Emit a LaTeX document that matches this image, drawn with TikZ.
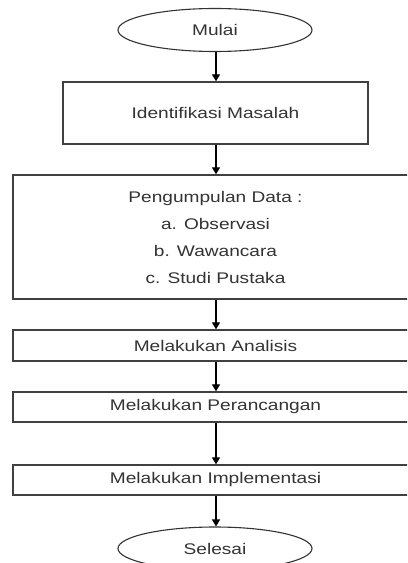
\documentclass[tikz,border=0pt]{standalone}
\usepackage{fontspec}
\setmainfont{Liberation Sans}[FakeStretch=1.24]
\usetikzlibrary{shapes.geometric,arrows.meta}
\begin{document}
\begin{tikzpicture}[x=1bp,y=-1bp,
  every node/.style={text=black!80,font=\fontsize{15.4bp}{27bp}\selectfont,inner sep=0pt},
  terminal/.style={ellipse,draw=black!80,line width=1.1bp,minimum width=194bp,minimum height=43bp},
  procbox/.style={rectangle,draw=black!75,line width=1.4bp,align=center},
  flow/.style={draw=black,line width=1.3bp,-{Triangle[width=8bp,length=7bp]}}]
\useasboundingbox (0,0) rectangle (407,563);
\clip (0,0) rectangle (407,563);
\fill[white] (0,0) rectangle (407,563);

\node[terminal] (start) at (215,30) {Mulai};
\node[procbox,minimum width=305bp,minimum height=62bp] (ident) at (215.5,113) {Identifikasi Masalah};
\node[procbox,minimum width=405bp,minimum height=124bp] (collect) at (215.5,237)
  {Pengumpulan Data :\\a. Observasi\\b. Wawancara\\c. Studi Pustaka};
\node[procbox,minimum width=405bp,minimum height=31bp] (analysis) at (215.5,345.5) {Melakukan Analisis};
\node[procbox,minimum width=405bp,minimum height=30bp] (design) at (215.5,407) {Melakukan Perancangan};
\node[procbox,minimum width=405bp,minimum height=30bp] (impl) at (215.5,480) {Melakukan Implementasi};
\node[terminal] (finish) at (215,548.5) {Selesai};

\draw[flow] (start.south -| 216,0) -- (ident.north -| 216,0);
\draw[flow] (ident.south -| 216,0) -- (collect.north -| 216,0);
\draw[flow] (collect.south -| 216,0) -- (analysis.north -| 216,0);
\draw[flow] (analysis.south -| 216,0) -- (design.north -| 216,0);
\draw[flow] (design.south -| 216,0) -- (impl.north -| 216,0);
\draw[flow] (impl.south -| 216,0) -- (finish.north -| 216,0);
\end{tikzpicture}
\end{document}
